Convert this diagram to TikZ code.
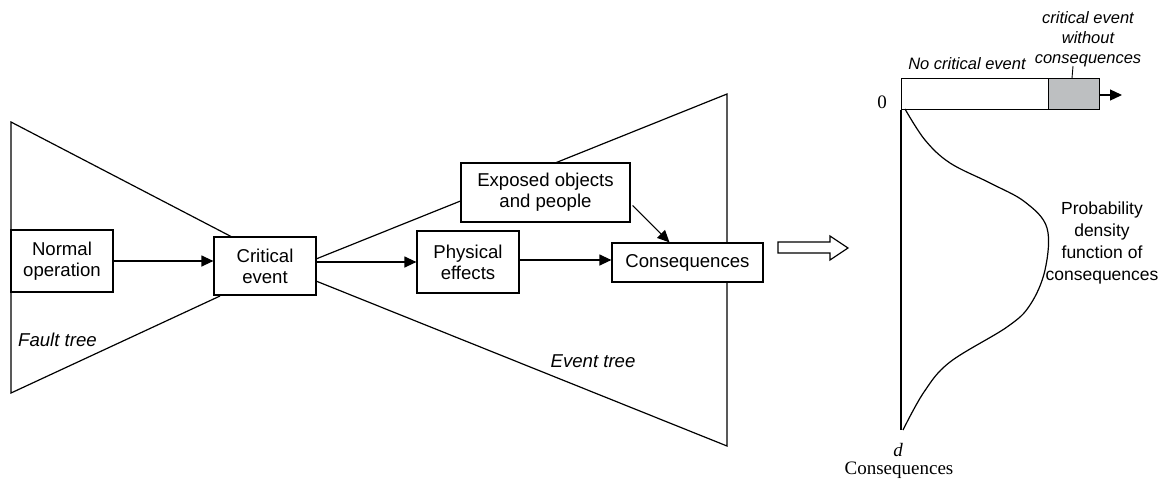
\documentclass[tikz,border=0pt]{standalone}
\usepackage{fontspec}
\setmainfont{Liberation Sans}
\newfontfamily\tnr{Liberation Serif}
\usetikzlibrary{arrows.meta}
\definecolor{barfill}{HTML}{BDBFC1}
\tikzset{
  base/.style={line width=1.2pt},
  stepbox/.style={base, draw, fill=white, align=center, inner sep=0pt,
                  font=\fontsize{18.6}{21}\selectfont},
  arr/.style={base, -{Triangle[length=12pt,width=11pt]}},
  lbl/.style={inner sep=0pt, align=center},
  big/.style={font=\fontsize{18.6}{21}\selectfont\itshape},
  small/.style={font=\fontsize{16.5}{20}\selectfont\itshape},
  pdf/.style={font=\fontsize{17.5}{22}\selectfont},
  serif/.style={font=\fontsize{19}{22}\selectfont\tnr},
}
\begin{document}
\begin{tikzpicture}[x=1pt,y=-1pt]
\useasboundingbox (0,0) rectangle (1167,480);

% fault tree wedge
\draw[base] (232,237) -- (11,122) -- (11,393) -- (220,296);
% event tree wedge
\draw[base] (316,259) -- (727,94) -- (727,446) -- (316,281);

% process boxes
\node[stepbox, minimum width=102, minimum height=62] (norm) at (62,261) {Normal\\operation};
\node[stepbox, minimum width=102, minimum height=58] (crit) at (265,266) {Critical\\event};
\node[stepbox, minimum width=102, minimum height=62] (phys) at (468,262) {Physical\\effects};
\node[stepbox, minimum width=169, minimum height=59] (expo) at (545.5,192.5) {Exposed objects\\and people};
\node[stepbox, minimum width=151, minimum height=39] (cons) at (687.5,262.5) {Consequences};

% flow arrows
\draw[arr] (norm.east) -- (norm.east -| crit.west);
\draw[arr] (phys.west -| crit.east) -- (phys.west);
\draw[arr] ([yshift=2pt]phys.east) -- ([yshift=2pt]phys.east -| cons.west);
\draw[arr] ([xshift=2pt,yshift=-13pt]expo.east) -- ([xshift=-18pt]cons.north);

% tree labels
\node[lbl, big, anchor=west] (ft) at (18,340) {Fault tree};
\node[lbl, big] (et) at (593,361) {Event tree};

% hollow transfer arrow
\draw[base] (778,242) -- (830,242) -- (830,236) -- (848,248) -- (830,260)
  -- (830,253) -- (778,253) -- cycle;

% outcome bar
\node[base, draw, minimum width=147, minimum height=31, inner sep=0pt, anchor=north west] (nobar) at (901,78) {};
\node[base, draw, fill=barfill, minimum width=51, minimum height=31, inner sep=0pt, anchor=north west] (cebar) at (1048,78) {};
\coordinate (tip) at (1122,95);
\draw[arr] (cebar.east |- tip) -- (tip);

% consequence axis
\coordinate (axbot) at (901,430);
\draw[base] (nobar.south west) -- (axbot);

% density curve
\draw[base] plot[smooth, tension=0.6] coordinates
  {(905,109) (925,140) (950,163) (990,183) (1025,202) (1047,228) (1045,270)
   (1030,305) (1007,327) (950,362) (924,392) (903,430)};

% axis and bar labels
\node[lbl, serif] (zero) at (882,102) {0};
\node[lbl, serif, font=\fontsize{19}{22}\selectfont\tnr\itshape] (dlab) at (898,450) {d};
\node[lbl, serif] (axlab) at (899,470) {Consequences};
\node[lbl, small] (nce) at (967,64) {No critical event};
\node[lbl, small] (cewc) at (1088,39) {critical event\\without\\consequences};
\draw[line width=0.9pt] (1073,66) -- (1072,78);
\node[lbl, pdf] (pdflab) at (1102,243) {Probability\\density\\function of\\consequences};
\end{tikzpicture}
\end{document}
